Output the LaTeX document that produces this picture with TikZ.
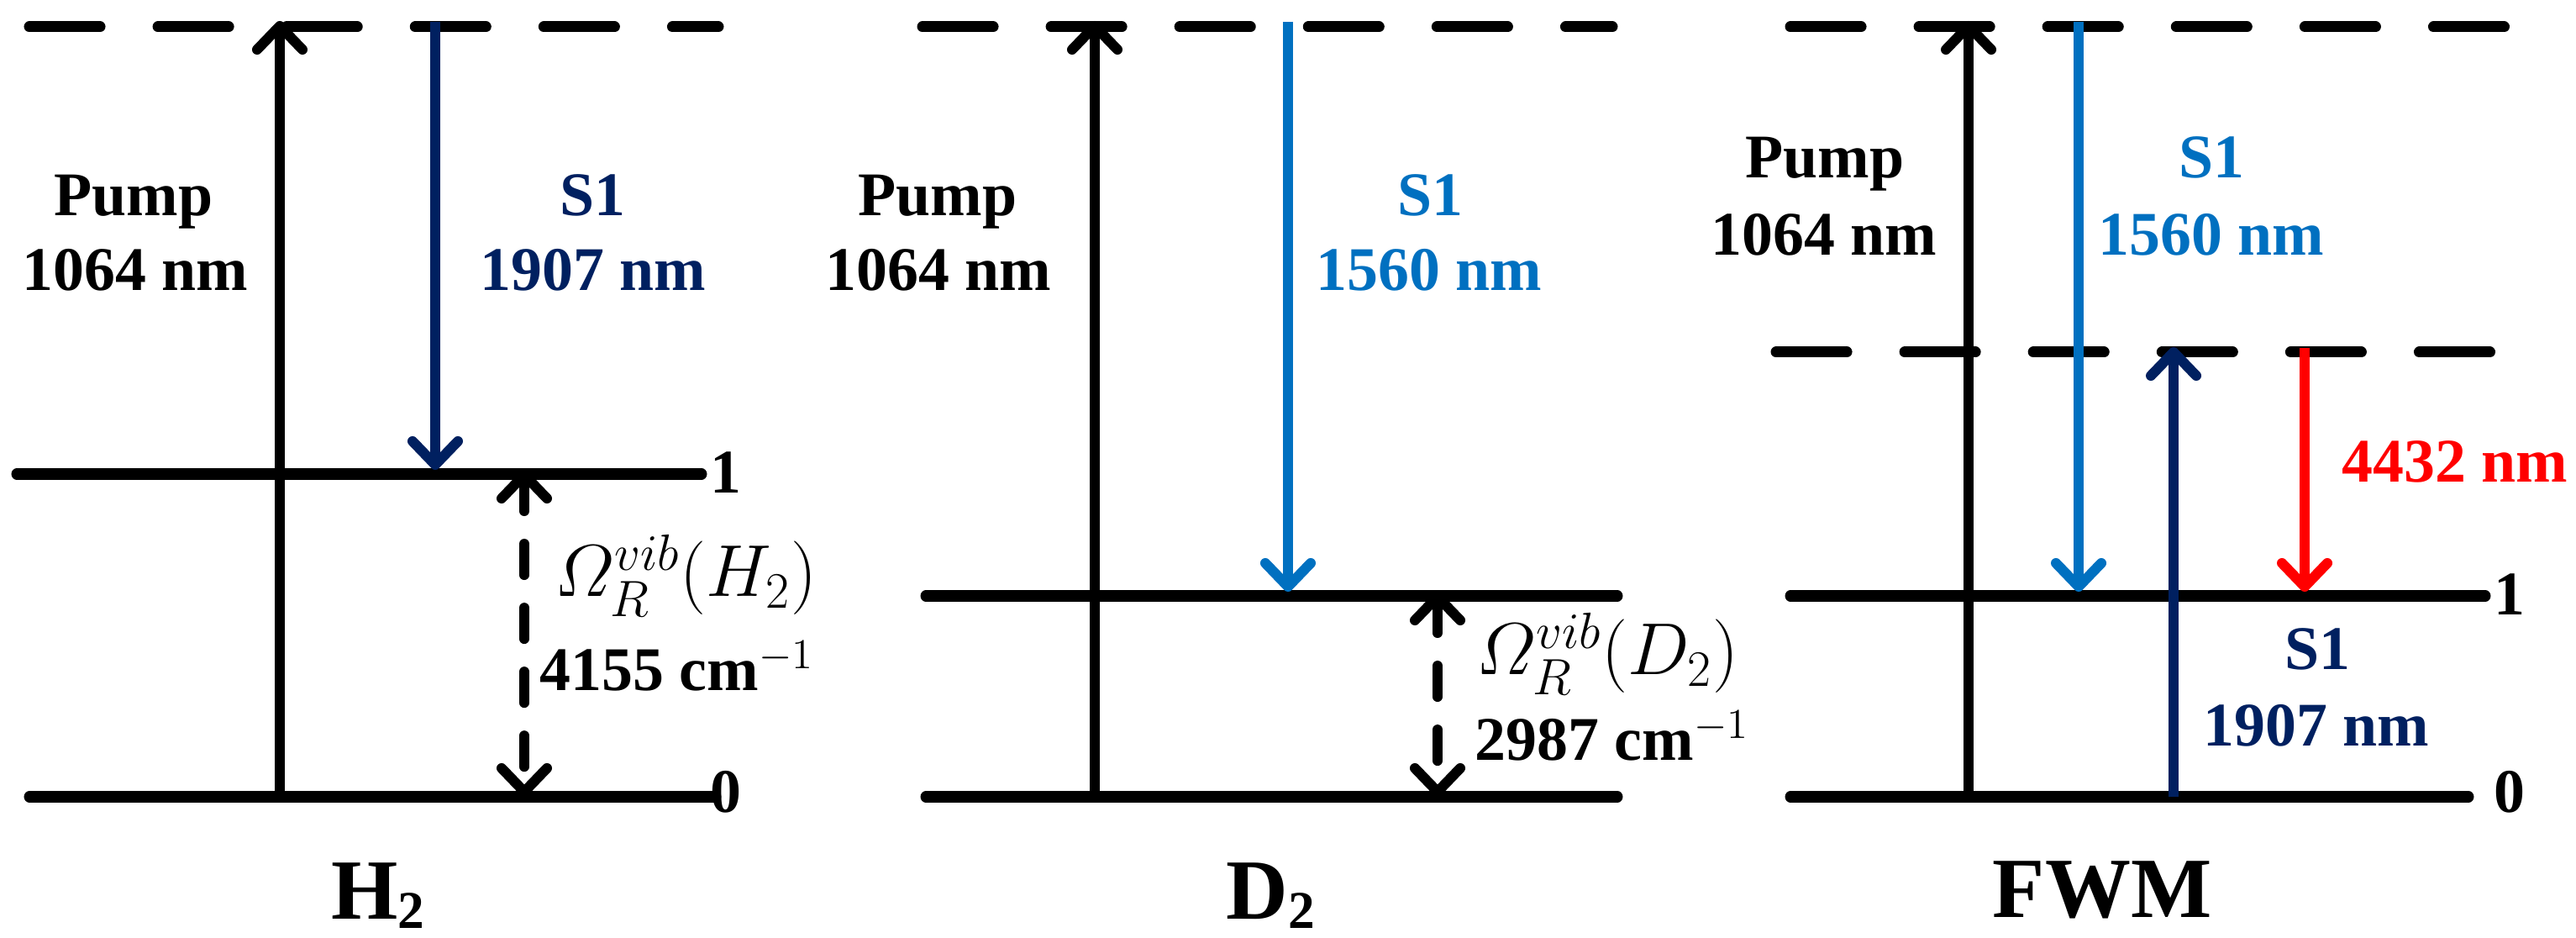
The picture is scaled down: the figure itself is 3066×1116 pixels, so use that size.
\documentclass[tikz,border=0pt]{standalone}
\usepackage{amsmath}
\usepackage{fontspec}
\setmainfont{Liberation Serif}
\usetikzlibrary{arrows.meta}
\definecolor{stokesnavy}{HTML}{002060}
\definecolor{stokesblue}{HTML}{0070C0}
\definecolor{idlerred}{HTML}{FF0000}
\newcommand{\gassub}[1]{\raisebox{-3.4pt}{\fontsize{18}{20}\selectfont #1}}
\tikzset{
  vlevel/.style={line width=0.13cm, line cap=round},
  virt/.style={vlevel, dash pattern=on 0.84cm off 0.69cm},
  barb/.tip={Straight Barb[length=0.28cm, width=0.54cm, round]},
  beam/.style={-barb, line width=0.12cm},
  ramangap/.style={barb-barb, line width=0.12cm, line cap=round,
    dash pattern=on 0.37cm off 0.39cm},
  wl/.style={font=\fontsize{21}{25}\selectfont\bfseries, inner sep=0pt, anchor=base},
  gapnote/.style={font=\fontsize{24.5}{29}\selectfont, inner sep=0pt, anchor=base west},
  gasname/.style={font=\fontsize{29}{34}\selectfont\bfseries, inner sep=0pt, anchor=base},
}
\begin{document}
\begin{tikzpicture}[x=0.01cm,y=-0.01cm]
  \useasboundingbox (0,0) rectangle (3066,1116);
  % virtual levels
  \foreach \xa/\xb/\y in {35/855/32, 1098/1919/32, 2131/2984/32, 2114/2967/419}
    \draw[virt] (\xa,\y) -- (\xb,\y);
  % vibrational levels
  \foreach \xa/\xb/\y in {20/835/564, 35/852/948, 1102/1925/709, 1102/1925/948,
                          2131/2958/709, 2131/2938/948}
    \draw[vlevel] (\xa,\y) -- (\xb,\y);
  % arrow ends
  \foreach \n/\x/\y in {hpA/333/948, hpB/333/25, hsA/518/26, hsB/518/559,
                        hgA/624/559, hgB/624/948,
                        dpA/1303/948, dpB/1303/25, dsA/1533/26, dsB/1533/704,
                        dgA/1711/704, dgB/1711/948,
                        fpA/2343/948, fpB/2343/25, fsA/2474/26, fsB/2474/704,
                        fiA/2587/948, fiB/2587/413, frA/2743/414, frB/2743/704}
    \coordinate (\n) at (\x,\y);
  % H2
  \draw[beam] (hpA) -- (hpB);
  \draw[beam, stokesnavy] (hsA) -- (hsB);
  \draw[ramangap] (hgA) -- (hgB);
  \node[wl] (hpump) at (159,257) {Pump};
  \node[wl] (hpumpwl) at (161,346) {1064 nm};
  \node[wl, text=stokesnavy] (hs) at (705,257) {S1};
  \node[wl, text=stokesnavy] (hswl) at (706,346) {1907 nm};
  \node[gapnote] (hom) at (660,710) {$\varOmega_R^{vib}(H_2)$};
  \node[wl, anchor=base west] (hgapwn) at (642,822) {4155 cm{\mdseries$^{-1}$}};
  \node[wl] (hone) at (864,587) {1};
  \node[wl] (hzero) at (864,966) {0};
  \node[gasname] (hname) at (450,1093) {H\gassub{2}};
  % D2
  \draw[beam] (dpA) -- (dpB);
  \draw[beam, stokesblue] (dsA) -- (dsB);
  \draw[ramangap] (dgA) -- (dgB);
  \node[wl] (dpump) at (1116,257) {Pump};
  \node[wl] (dpumpwl) at (1117,346) {1064 nm};
  \node[wl, text=stokesblue] (ds) at (1702,257) {S1};
  \node[wl, text=stokesblue] (dswl) at (1701,346) {1560 nm};
  \node[gapnote] (dom) at (1757,803) {$\varOmega_R^{vib}(D_2)$};
  \node[wl, anchor=base west] (dgapwn) at (1755,905) {2987 cm{\mdseries$^{-1}$}};
  \node[gasname] (dname) at (1512,1093) {D\gassub{2}};
  % FWM
  \draw[beam] (fpA) -- (fpB);
  \draw[beam, stokesblue] (fsA) -- (fsB);
  \draw[beam, stokesnavy] (fiA) -- (fiB);
  \draw[beam, idlerred] (frA) -- (frB);
  \node[wl] (fpump) at (2172,212) {Pump};
  \node[wl] (fpumpwl) at (2171,304) {1064 nm};
  \node[wl, text=stokesblue] (fs) at (2632,212) {S1};
  \node[wl, text=stokesblue] (fswl) at (2632,304) {1560 nm};
  \node[wl, text=idlerred] (fidler) at (2922,574) {4432 nm};
  \node[wl, text=stokesnavy] (fsb) at (2758,797) {S1};
  \node[wl, text=stokesnavy] (fsbwl) at (2757,887) {1907 nm};
  \node[wl] (fone) at (2987,732) {1};
  \node[wl] (fzero) at (2987,966) {0};
  \node[gasname] (fname) at (2502,1091) {FWM};
\end{tikzpicture}
\end{document}
